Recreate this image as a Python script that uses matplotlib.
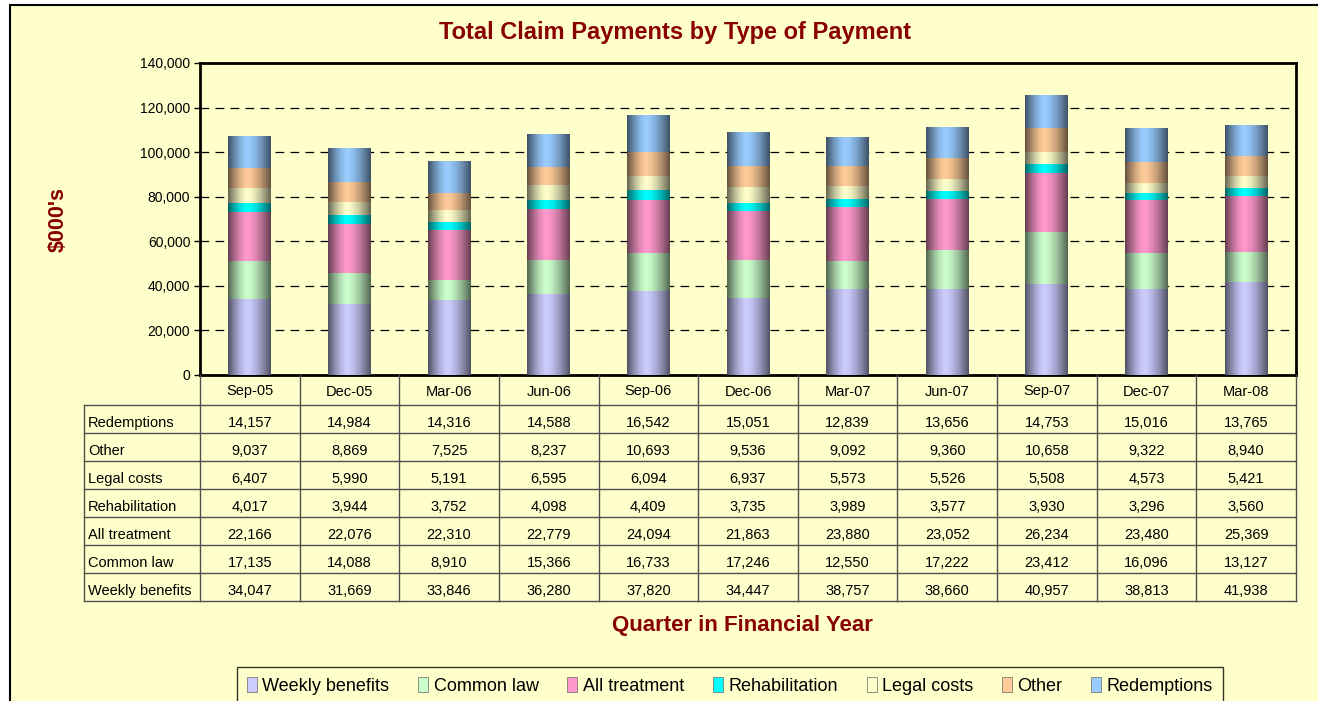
import numpy as np
import matplotlib
matplotlib.use("Agg")
import matplotlib.pyplot as plt
from matplotlib.patches import Rectangle
from matplotlib.colors import to_rgb

plt.rcParams['font.family'] = ['Liberation Sans', 'DejaVu Sans']

quarters = ["Sep-05", "Dec-05", "Mar-06", "Jun-06", "Sep-06", "Dec-06",
            "Mar-07", "Jun-07", "Sep-07", "Dec-07", "Mar-08"]
weekly_benefits = [34047, 31669, 33846, 36280, 37820, 34447, 38757, 38660, 40957, 38813, 41938]
common_law = [17135, 14088, 8910, 15366, 16733, 17246, 12550, 17222, 23412, 16096, 13127]
all_treatment = [22166, 22076, 22310, 22779, 24094, 21863, 23880, 23052, 26234, 23480, 25369]
rehabilitation = [4017, 3944, 3752, 4098, 4409, 3735, 3989, 3577, 3930, 3296, 3560]
legal_costs = [6407, 5990, 5191, 6595, 6094, 6937, 5573, 5526, 5508, 4573, 5421]
other = [9037, 8869, 7525, 8237, 10693, 9536, 9092, 9360, 10658, 9322, 8940]
redemptions = [14157, 14984, 14316, 14588, 16542, 15051, 12839, 13656, 14753, 15016, 13765]

series_names = ["Weekly benefits", "Common law", "All treatment", "Rehabilitation",
                "Legal costs", "Other", "Redemptions"]
series_values = [weekly_benefits, common_law, all_treatment, rehabilitation,
                 legal_costs, other, redemptions]
series_colors = ["#CCCCFF", "#CCFFCC", "#FF99CC", "#00FFFF", "#FFFFCC", "#FFCC99", "#99CCFF"]
table_labels = ["Redemptions", "Other", "Legal costs", "Rehabilitation",
                "All treatment", "Common law", "Weekly benefits"]

W, H = 1318, 701
fig = plt.figure(figsize=(W / 100, H / 100), dpi=100)
fig.patch.set_facecolor("white")
BG = "#FFFFCC"
DARKRED = "#880000"

# outer chart area
fig.patches.append(Rectangle((10 / W, -0.05), 1.2, (H - 5) / H + 0.05,
                             transform=fig.transFigure, facecolor=BG,
                             edgecolor="black", linewidth=1.5, zorder=-10))

# main axes
ax_l, ax_r, ax_t, ax_b = 200, 1296, 63, 375
ax = fig.add_axes([ax_l / W, (H - ax_b) / H, (ax_r - ax_l) / W, (ax_b - ax_t) / H])
ax.set_facecolor(BG)

x = np.arange(len(quarters))
bar_w = 0.43
bottom = np.zeros(len(quarters))


def shade_profile(n=64):
    t = np.linspace(0, 1, n)
    peak = 0.45
    d = np.where(t < peak, (peak - t) / peak, (t - peak) / (1 - peak))
    return 1.0 - 0.6 * d ** 1.5


prof = shade_profile()
for vals, col in zip(series_values, series_colors):
    vals = np.array(vals, dtype=float)
    bars = ax.bar(x, vals, bar_w, bottom=bottom, color=col, edgecolor="none", zorder=3)
    rgb = np.array(to_rgb(col))
    img = np.clip(prof[:, None] * rgb[None, :], 0, 1)[None, :, :]
    for b in bars:
        x0, y0 = b.get_x(), b.get_y()
        ax.imshow(img, extent=[x0, x0 + b.get_width(), y0, y0 + b.get_height()],
                  aspect="auto", interpolation="bilinear", zorder=4)
    bottom += vals

ax.set_xlim(-0.5, len(quarters) - 0.5)
ax.set_ylim(0, 140000)
ax.set_yticks(np.arange(0, 140001, 20000))
ax.set_yticklabels([f"{v:,}" for v in range(0, 140001, 20000)], fontsize=10)
ax.set_xticks([])
ax.tick_params(axis="y", direction="out", length=4, width=1, pad=3)
for yv in range(20000, 140000, 20000):
    ax.axhline(yv, color="black", linestyle=(0, (7, 5)), linewidth=0.9, zorder=1)
for s in ax.spines.values():
    s.set_linewidth(2)
    s.set_color("black")

# data table
tb_top, tb_bot, tb_left = 375, 601, 84
px_per_unit = (ax_r - ax_l) / len(quarters)
tab = fig.add_axes([tb_left / W, (H - tb_bot) / H, (ax_r - tb_left) / W, (tb_bot - tb_top) / H])
tab.set_xlim(-0.5 - (ax_l - tb_left) / px_per_unit, len(quarters) - 0.5)
row_h = 28.0
hdr_h = (tb_bot - tb_top) - 7 * row_h
n_rows = len(table_labels)
tab.set_ylim(0, n_rows + hdr_h / row_h)
tab.axis("off")
tab.patch.set_alpha(0)
xl = -0.5 - (ax_l - tb_left) / px_per_unit
top_y = n_rows + hdr_h / row_h
lc = "#505050"
for i in range(len(quarters) + 1):
    tab.plot([i - 0.5, i - 0.5], [0, top_y], color=lc, lw=1.0, clip_on=False)
tab.plot([xl, xl], [0, n_rows], color=lc, lw=1.0, clip_on=False)
for r in range(n_rows + 1):
    tab.plot([xl, len(quarters) - 0.5], [r, r], color=lc, lw=1.0, clip_on=False)
for i, q in enumerate(quarters):
    tab.text(i, n_rows + hdr_h / row_h / 2, q, ha="center", va="center_baseline",
             fontsize=10.5)
label_to_vals = dict(zip(series_names, series_values))
for r, lab in enumerate(table_labels):
    yc = n_rows - r - 0.58
    tab.text(xl + 0.04, yc, lab, ha="left", va="center_baseline", fontsize=10.5)
    for i, v in enumerate(label_to_vals[lab]):
        tab.text(i, yc, f"{v:,}", ha="center", va="center_baseline", fontsize=10.5)

# titles
fig.text(675 / W, (H - 33) / H, "Total Claim Payments by Type of Payment",
         ha="center", va="center", fontsize=17, fontweight="bold", color=DARKRED)
fig.text(58 / W, (H - 220) / H, "$000's", ha="center", va="center", rotation=90,
         fontsize=15.5, fontweight="bold", color=DARKRED)
fig.text(742 / W, (H - 625) / H, "Quarter in Financial Year", ha="center", va="center",
         fontsize=16, fontweight="bold", color=DARKRED)

# legend
handles = [Rectangle((0, 0), 1, 1, facecolor=c, edgecolor="#666666", lw=0.5) for c in series_colors]
leg = fig.legend(handles, series_names, loc="upper center",
                 bbox_to_anchor=(730 / W, (H - 658) / H), ncol=7, frameon=True,
                 fancybox=False, edgecolor="black", facecolor=BG, fontsize=13,
                 handlelength=0.55, handleheight=0.9, handletextpad=0.3,
                 columnspacing=1.6, borderpad=0.55, borderaxespad=0.5)
leg.get_frame().set_linewidth(1.0)

fig.savefig("out.png", dpi=100, facecolor=fig.get_facecolor())
